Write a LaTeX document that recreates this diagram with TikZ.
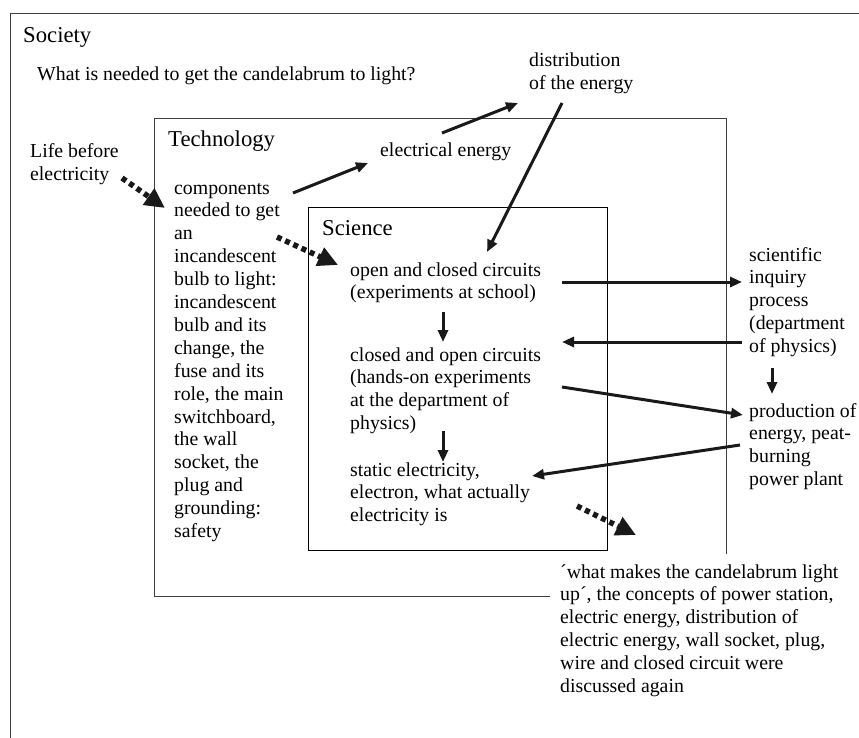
\documentclass[tikz,border=0pt]{standalone}
\usepackage{fontspec}
\setmainfont{Liberation Serif}
\usetikzlibrary{positioning,arrows.meta}

\begin{document}
\begin{tikzpicture}[x=1pt, y=-1pt,
		txt/.style={align=left, anchor=base west, inner sep=0pt, text=black,
			font=\fontsize{19.8}{22.9}\selectfont},
		head/.style={anchor=base west, inner sep=0pt, text=black,
			font=\fontsize{22.7}{26}\selectfont},
		frame/.style={rectangle, draw=black!75, line width=1.1pt, anchor=north west, inner sep=0pt},
		arr/.style={-{Triangle[length=12pt,width=10pt]}, line width=3pt, draw=black!90},
		dotarr/.style={-{Triangle[length=20pt,width=19pt]}, line width=5.5pt, draw=black!90,
			dash pattern=on 5pt off 4pt}
]
\useasboundingbox (0,0) rectangle (859,738);

\node [frame, minimum width=900pt, minimum height=800pt] (societybox) at (10,13) {};
\node [frame, minimum width=572pt, minimum height=478pt] (techbox) at (154,118) {};
\node [frame, minimum width=299pt, minimum height=343pt, draw=black] (sciencebox) at (308,207) {};

% multi-line texts sit on the baseline of their last line
\node [head] (society) at (23,43) {Society};
\node [txt] (question) at (37,81) {What is needed to get the candelabrum to light?};
\node [txt] (distrib) at (529,89.9) {distribution\\of the energy};
\node [head] (tech) at (168,147) {Technology};
\node [txt] (life) at (30,180.9) {Life before\\electricity};
\node [txt] (elenergy) at (380,157) {electrical energy};
\node [txt] (comps) at (174,537.5) {components\\needed to get\\an\\incandescent\\bulb to light:\\incandescent\\bulb and its\\change, the\\fuse and its\\role, the main\\switchboard,\\the wall\\socket, the\\plug and\\grounding:\\safety};
\node [head] (science) at (322,236) {Science};
\node [txt] (openc) at (350,298.9) {open and closed circuits\\(experiments at school)};
\node [txt] (closedc) at (350,429.7) {closed and open circuits\\(hands-on experiments\\at the department of\\physics)};
\node [txt] (static) at (350,521.8) {static electricity,\\electron, what actually\\electricity is};
\node [txt] (inquiry) at (749,352.6) {scientific\\inquiry\\process\\(department\\of physics)};
\node [txt] (production) at (749,485.7) {production of\\energy, peat-\\burning\\power plant};
\node [txt, fill=white, inner sep=10pt] (discuss) at (550,692.5) {´what makes the candelabrum light\\up´, the concepts of power station,\\electric energy, distribution of\\electric energy, wall socket, plug,\\wire and closed circuit were\\discussed again};

\draw [dotarr] ([shift={(92,-2.9)}]life.base west) -- ([shift={(-9,-329.5)}]comps.base west);
\draw [arr] ([shift={(119,-344.5)}]comps.base west) -- ([shift={(-12,6)}]elenergy.base west);
\draw [arr] ([shift={(62,-24)}]elenergy.base west) -- ([shift={(-11,13.1)}]distrib.base west);
\draw [arr] ([shift={(33,13.1)}]distrib.base west) -- ([shift={(137,-46.9)}]openc.base west);
\draw [dotarr] ([shift={(103,-300.5)}]comps.base west) -- ([shift={(-12,-33.9)}]openc.base west);
\draw [arr] ([shift={(212,-16.9)}]openc.base west) -- ([shift={(-7,-70.6)}]inquiry.base west);
\draw [arr] ([shift={(-7,-10.6)}]inquiry.base west) -- ([shift={(212,-87.7)}]closedc.base west);
\draw [arr] ([shift={(93,13.1)}]openc.base west) -- ([shift={(93,-87.7)}]closedc.base west);
\draw [arr] ([shift={(93,1.3)}]closedc.base west) -- ([shift={(93,-59.8)}]static.base west);
\draw [arr] ([shift={(23,15.4)}]inquiry.base west) -- ([shift={(23,-91.7)}]production.base west);
\draw [arr] ([shift={(212,-42.7)}]closedc.base west) -- ([shift={(-6,-70.7)}]production.base west);
\draw [arr] ([shift={(-9,-40.7)}]production.base west) -- ([shift={(182,-45.8)}]static.base west);
\draw [dotarr] ([shift={(227,-15.8)}]static.base west) -- ([shift={(86,-157.5)}]discuss.base west);

\end{tikzpicture}
\end{document}
